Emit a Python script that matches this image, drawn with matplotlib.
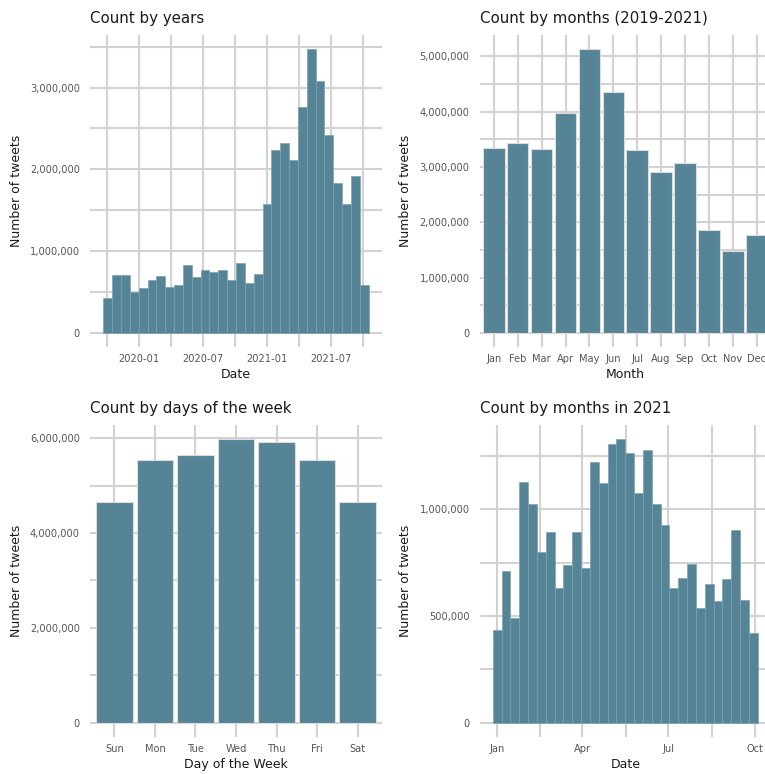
import matplotlib
matplotlib.use("Agg")
import matplotlib.pyplot as plt
import matplotlib.dates as mdates
import numpy as np
from matplotlib.ticker import FixedLocator, FuncFormatter

# Tweet counts, 30 equal-width bins between the first and last tweet
year_start, year_end = "2019-09-22", "2021-10-16"
year_counts = [420000, 710000, 710000, 500000, 550000, 650000, 700000, 560000, 590000, 830000,
               680000, 770000, 750000, 770000, 650000, 850000, 610000, 720000, 1570000, 2240000,
               2320000, 2110000, 2760000, 3470000, 3080000, 2420000, 1830000, 1580000, 1920000, 580000]

# Tweets per calendar month, summed over 2019-2021
months = ["Jan", "Feb", "Mar", "Apr", "May", "Jun", "Jul", "Aug", "Sep", "Oct", "Nov", "Dec"]
month_counts = [3345000, 3436000, 3321000, 3970000, 5130000, 4350000,
                3300000, 2910000, 3070000, 1860000, 1485000, 1770000]

# Tweets per weekday
weekdays = ["Sun", "Mon", "Tue", "Wed", "Thu", "Fri", "Sat"]
weekday_counts = [4660000, 5530000, 5640000, 5980000, 5910000, 5540000, 4660000]

# 2021 only, 30 bins
y2021_start, y2021_end = "2020-12-27", "2021-10-04"
y2021_counts = [435000, 711000, 490000, 1127000, 1025000, 802000, 892000, 633000, 739000, 892000,
                727000, 1224000, 1122000, 1306000, 1330000, 1264000, 1078000, 1279000, 1024000, 928000,
                633000, 680000, 746000, 537000, 648000, 570000, 672000, 903000, 576000, 421000]

BAR = "#558497"
GRID = "#d2d2d2"
TICK = "#555555"

W, H = 765, 774
fig = plt.figure(figsize=(W / 100, H / 100), dpi=100)

def make_ax(x0, x1, y0, y1):
    return fig.add_axes([x0 / W, 1 - y1 / H, (x1 - x0) / W, (y1 - y0) / H])

ax1 = make_ax(90, 382, 35, 347)
ax2 = make_ax(479.5, 771, 35, 347)
ax3 = make_ax(90, 382, 425, 736.7)
ax4 = make_ax(479.5, 771, 425, 736.7)

comma = FuncFormatter(lambda v, p: f"{int(round(v)):,}")

def style(ax, title, xlabel, yticks, yminor):
    for s in ax.spines.values():
        s.set_visible(False)
    ax.set_axisbelow(True)
    ax.yaxis.set_major_locator(FixedLocator(yticks))
    ax.yaxis.set_minor_locator(FixedLocator(yminor))
    ax.yaxis.set_major_formatter(comma)
    ax.grid(True, which="both", color=GRID, linewidth=1.5)
    ax.tick_params(which="both", length=0)
    ax.tick_params(axis="y", pad=7.2, labelsize=7.1, labelcolor=TICK)
    ax.tick_params(axis="x", pad=5, labelsize=7.1, labelcolor=TICK)
    ax.set_title(title, loc="left", fontsize=10.8, color="#1a1a1a", pad=9)
    ax.set_xlabel(xlabel, fontsize=9, color="#1a1a1a", labelpad=3)
    ax.set_ylabel("Number of tweets", fontsize=9, color="#1a1a1a", labelpad=5)

def expand(lo, hi, f=0.05):
    d = (hi - lo) * f
    return lo - d, hi + d

def histogram(ax, start, end, counts, majors, fmt):
    a, b = mdates.date2num(np.datetime64(start)), mdates.date2num(np.datetime64(end))
    edges = np.linspace(a, b, len(counts) + 1)
    ax.bar(edges[:-1], counts, width=np.diff(edges), align="edge", color=BAR,
           edgecolor="#7ea1b0", linewidth=0.5)
    ax.set_xlim(*expand(a, b))
    ax.set_ylim(*expand(0, max(counts)))
    maj = [mdates.date2num(np.datetime64(d)) for d in majors]
    step = maj[1] - maj[0]
    mino = [m - step / 2 for m in maj] + [maj[-1] + step / 2]
    ax.xaxis.set_major_locator(FixedLocator(maj))
    ax.xaxis.set_minor_locator(FixedLocator(mino))
    ax.xaxis.set_major_formatter(mdates.DateFormatter(fmt))

def category_bars(ax, labels, counts):
    x = np.arange(len(labels))
    ax.bar(x, counts, width=0.9, color=BAR, edgecolor="#dcdcdc", linewidth=0.8)
    ax.set_xticks(x, labels)
    ax.set_xlim(-0.6, len(labels) - 0.4)
    ax.set_ylim(*expand(0, max(counts)))

histogram(ax1, year_start, year_end, year_counts,
          ["2020-01-01", "2020-07-01", "2021-01-01", "2021-07-01"], "%Y-%m")
style(ax1, "Count by years", "Date",
      [0, 1e6, 2e6, 3e6], [5e5, 1.5e6, 2.5e6, 3.5e6])

category_bars(ax2, months, month_counts)
style(ax2, "Count by months (2019-2021)", "Month",
      np.arange(0, 6e6, 1e6), np.arange(5e5, 5.6e6, 1e6))

category_bars(ax3, weekdays, weekday_counts)
style(ax3, "Count by days of the week", "Day of the Week",
      [0, 2e6, 4e6, 6e6], [1e6, 3e6, 5e6])

histogram(ax4, y2021_start, y2021_end, y2021_counts,
          ["2021-01-01", "2021-04-01", "2021-07-01", "2021-10-01"], "%b")
style(ax4, "Count by months in 2021", "Date",
      [0, 5e5, 1e6], [2.5e5, 7.5e5, 1.25e6])

fig.savefig("out.png", dpi=100)
